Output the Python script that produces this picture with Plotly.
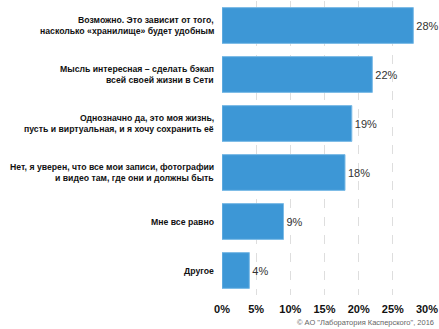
import plotly.graph_objects as go

# Survey answers (top to bottom), each split into its display lines, and shares, %
answers = [
    ["Возможно. Это зависит от того,", "насколько «хранилище» будет удобным"],
    ["Мысль интересная – сделать бэкап", "всей своей жизни в Сети"],
    ["Однозначно да, это моя жизнь,", "пусть и виртуальная, и я хочу сохранить её"],
    ["Нет, я уверен, что все мои записи, фотографии", "и видео там, где они и должны быть"],
    ["Мне все равно"],
    ["Другое"],
]
shares = [28, 22, 19, 18, 9, 4]
x_ticks = [0, 5, 10, 15, 20, 25, 30]
x_tick_labels = [f"{t}%" for t in x_ticks]

FONT = "Liberation Sans, Arial, sans-serif"
LINE_GAP = 11.5  # tight leading between label lines, px

positions = list(range(len(answers)))

fig = go.Figure(
    go.Bar(
        y=positions,
        x=shares,
        orientation="h",
        marker=dict(color="#3d97d6", line=dict(color="#7cbbe6", width=1)),
        text=[f"{v}%" for v in shares],
        textposition="outside",
        textfont=dict(family=FONT, size=11, color="#333333"),
        cliponaxis=False,
        hoverinfo="skip",
    )
)

# Category labels: one annotation per line, right-aligned left of the plot
label_annotations = []
for pos, lines in zip(positions, answers):
    n = len(lines)
    for i, line in enumerate(lines):
        offset = (i - (n - 1) / 2) * LINE_GAP
        label_annotations.append(
            dict(
                text=f"<b>{line}</b>",
                xref="paper",
                yref="y",
                x=0,
                y=pos,
                xanchor="right",
                yanchor="middle",
                xshift=-6,
                yshift=-offset,
                showarrow=False,
                font=dict(family=FONT, size=8.7, color="#111111"),
            )
        )

fig.update_layout(
    width=439,
    height=329,
    margin=dict(l=222, r=12, t=1, b=34, autoexpand=False),
    paper_bgcolor="white",
    plot_bgcolor="white",
    bargap=0.27,
    showlegend=False,
    font=dict(family=FONT, color="#111111"),
    xaxis=dict(
        range=[0, 30],
        tickvals=x_ticks,
        ticktext=[f"<b>{t}</b>" for t in x_tick_labels],
        tickfont=dict(family=FONT, size=11, color="#111111"),
        tickangle=0,
        ticklabeloverflow="allow",
        automargin=False,
        showgrid=True,
        gridcolor="#dedede",
        griddash="dash",
        gridwidth=1,
        zeroline=False,
        showline=False,
        ticks="",
        ticklabelstandoff=6,
        fixedrange=True,
    ),
    yaxis=dict(
        range=[len(answers) - 0.5, -0.5],
        showticklabels=False,
        automargin=False,
        showgrid=False,
        zeroline=False,
        showline=False,
        ticks="",
        fixedrange=True,
    ),
    annotations=label_annotations
    + [
        dict(
            text='© АО "Лаборатория Касперского", 2016',
            xref="paper",
            yref="paper",
            x=1.045,
            y=-0.095,
            xanchor="right",
            yanchor="middle",
            showarrow=False,
            font=dict(family=FONT, size=7.5, color="#666666"),
        )
    ],
)

fig.write_html("out.html")
